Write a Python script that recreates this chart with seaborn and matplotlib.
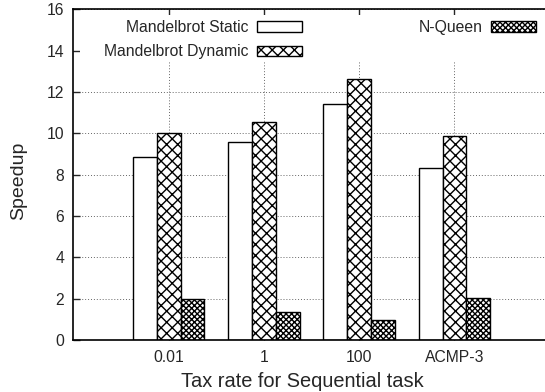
import pandas as pd
import seaborn as sns
import matplotlib.pyplot as plt
from matplotlib.patches import Patch

# ---- data ----
categories = ["0.01", "1", "100", "ACMP-3"]
series = ["Mandelbrot Static", "Mandelbrot Dynamic", "N-Queen"]
static_speedup = [8.83, 9.56, 11.43, 8.34]
dynamic_speedup = [10.0, 10.53, 12.61, 9.88]
nqueen_speedup = [1.98, 1.34, 0.95, 2.02]
y_ticks = [0, 2, 4, 6, 8, 10, 12, 14, 16]

hatches = ["", "xxx", "xxxxxx"]

df = pd.DataFrame({
    "tax": categories * 3,
    "benchmark": [s for s in series for _ in categories],
    "speedup": static_speedup + dynamic_speedup + nqueen_speedup,
})

sns.set_style("ticks")
plt.rcParams["font.family"] = ["Liberation Sans", "DejaVu Sans"]
plt.rcParams["hatch.linewidth"] = 1.0
plt.rcParams["hatch.color"] = "black"

W, H = 545, 392
fig = plt.figure(figsize=(W / 100, H / 100), dpi=100)
ax = fig.add_axes([73.3 / W, 1 - 340 / H, 1 - 73.3 / W, (340 - 9.3) / H])

sns.barplot(data=df, x="tax", y="speedup", hue="benchmark",
            order=categories, hue_order=series,
            palette={s: "white" for s in series}, saturation=1,
            edgecolor="black", linewidth=1.0, width=0.75,
            legend=False, ax=ax, zorder=2)

for cont, h in zip(ax.containers, hatches):
    for bar in cont:
        bar.set_hatch(h)

ax.set_xlim(-1, 3.95)
ax.set_ylim(0, 16)
ax.set_yticks(y_ticks)

ax.set_axisbelow(True)
ax.grid(True, linestyle=(0, (1, 2)), color="#666666", linewidth=0.7)
# key area is opaque in the original
ax.axhspan(13.45, 15.72, xmin=0.015, xmax=1, color="white", zorder=1, linewidth=0)

for side in ["top", "left", "bottom"]:
    ax.spines[side].set_linewidth(1.2)
    ax.spines[side].set_color("black")
ax.spines["right"].set_visible(False)

ax.tick_params(axis="y", direction="in", length=5, width=1, labelsize=11.3, pad=6.5, right=False)
ax.tick_params(axis="x", direction="in", length=5, width=1, labelsize=11.3, pad=7, top=True)

ax.set_ylabel("Speedup", fontsize=14)
ax.yaxis.set_label_coords(-0.098, 0.48)
ax.set_xlabel("Tax rate for Sequential task", fontsize=14.4, va="top")
ax.xaxis.set_label_coords(0.486, -0.097)

handles = [Patch(facecolor="white", edgecolor="black", hatch=h, linewidth=1) for h in hatches]
leg_kw = dict(loc="upper right", frameon=False, markerfirst=False, fontsize=11.3,
              borderpad=0, borderaxespad=0, handlelength=2.85, handleheight=0.64,
              handletextpad=0.55, labelspacing=0.6, bbox_transform=fig.transFigure)
leg1 = ax.legend(handles[:2], series[:2], bbox_to_anchor=(302 / W, 1 - 20 / H), **leg_kw)
ax.add_artist(leg1)
ax.legend(handles[2:], series[2:], bbox_to_anchor=(536 / W, 1 - 20 / H), **leg_kw)

fig.savefig("out.png", dpi=100)
